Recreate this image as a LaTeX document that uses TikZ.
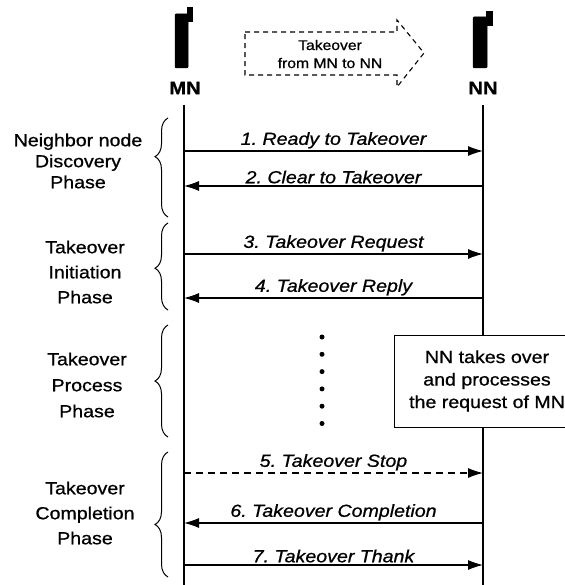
\documentclass[tikz,border=0pt]{standalone}
\usepackage{fontspec}
\setmainfont{Liberation Sans}[FakeStretch=1.12,FakeBold=0.8]
\usetikzlibrary{arrows.meta,decorations.pathreplacing}
\frenchspacing

\begin{document}
\begin{tikzpicture}[x=1pt,y=-1pt,
  life/.style={line width=1.5pt},
  msg/.style={line width=1.1pt,-{Latex[length=15pt,width=10pt]}},
  msgdash/.style={msg,dash pattern=on 7pt off 5pt},
  lbl/.style={font=\fontsize{17.5}{20}\selectfont\itshape\frenchspacing,anchor=south,inner sep=0pt,yshift=2pt},
  phase/.style={align=center,inner sep=0pt},
  brc/.style={decorate,line width=1pt},
  entity/.style={font=\fontsize{18}{20}\selectfont\bfseries,inner sep=0pt},
  phone/.style={fill=black,draw=black,line width=0.5pt},
  dot/.style={circle,fill=black,inner sep=0pt,minimum size=5pt},
  notebox/.style={draw,fill=white,line width=1pt,minimum width=185pt,minimum height=92pt,
    anchor=west,align=center,inner sep=0pt,font=\fontsize{17.5}{22.5}\selectfont},
]
\useasboundingbox (0,0) rectangle (564,585);

% handsets
\path[phone,rounded corners=1pt] (175,14) rectangle (188,68);
\path[phone] (187,7) rectangle (192,21);
\path[phone,rounded corners=1pt] (473,17) rectangle (487,68);
\path[phone] (486,11) rectangle (492,25);

\node[entity] (MN) at (185,88) {MN};
\node[entity] (NN) at (483,88) {NN};

% dashed hand-over arrow
\draw[line width=1.1pt,dash pattern=on 5pt off 4pt]
  (245,32) -- (397,32) -- (397,20) -- (424,53) -- (397,87) -- (397,75) -- (245,75) -- cycle;
\node[align=center,inner sep=0pt,font=\fontsize{14}{18}\selectfont] (ho) at (330,54)
  {Takeover\\from MN to NN};

% lifelines
\coordinate (mtop) at (184,105);
\coordinate (mbot) at (184,585);
\coordinate (ntop) at (483,105);
\coordinate (nbot) at (483,585);
\draw[life] (mtop) -- (mbot);
\draw[life] (ntop) -- (nbot);

% message end points
\foreach \k/\y in {1/151,2/186,3/254,4/298,5/473,6/523,7/565}{
  \coordinate (m\k) at (184,\y);
  \coordinate (n\k) at (483,\y);
}

\draw[msg] (m1) -- node[lbl] {1. Ready to Takeover} (n1);
\draw[msg] (n2) -- node[lbl] {2. Clear to Takeover} (m2);
\draw[msg] (m3) -- node[lbl] {3. Takeover Request} (n3);
\draw[msg] (n4) -- node[lbl] {4. Takeover Reply} (m4);
\draw[msgdash] (m5) -- node[lbl] {5. Takeover Stop} (n5);
\draw[msg] (n6) -- node[lbl] {6. Takeover Completion} (m6);
\draw[msg] (m7) -- node[lbl] {7. Takeover Thank} (n7);

% processing note
\node[notebox] (note) at (394,381) {NN takes over\\and processes\\the request of MN};
\foreach \i in {0,...,5}{
  \node[dot] (d\i) at (322,337+17.3*\i) {};
}

% phase braces
\coordinate (b1a) at (168,217); \coordinate (b1b) at (168,118);
\coordinate (b2a) at (168,310); \coordinate (b2b) at (168,223);
\coordinate (b3a) at (168,437); \coordinate (b3b) at (168,325);
\coordinate (b4a) at (168,577); \coordinate (b4b) at (168,452);
\draw[brc,decoration={brace,amplitude=13pt,aspect=0.61}] (b1a) -- (b1b);
\draw[brc,decoration={brace,amplitude=13pt,aspect=0.48}] (b2a) -- (b2b);
\draw[brc,decoration={brace,amplitude=13pt,aspect=0.5}] (b3a) -- (b3b);
\draw[brc,decoration={brace,amplitude=13pt,aspect=0.42}] (b4a) -- (b4b);

\node[phase,font=\fontsize{17.5}{21}\selectfont] (p1) at (78,161) {Neighbor node\\Discovery\\Phase};
\node[phase,font=\fontsize{17.5}{25}\selectfont] (p2) at (85,272) {Takeover\\Initiation\\Phase};
\node[phase,font=\fontsize{17.5}{26}\selectfont] (p3) at (87,385) {Takeover\\Process\\Phase};
\node[phase,font=\fontsize{17.5}{25}\selectfont] (p4) at (85,513) {Takeover\\Completion\\Phase};
\end{tikzpicture}
\end{document}
